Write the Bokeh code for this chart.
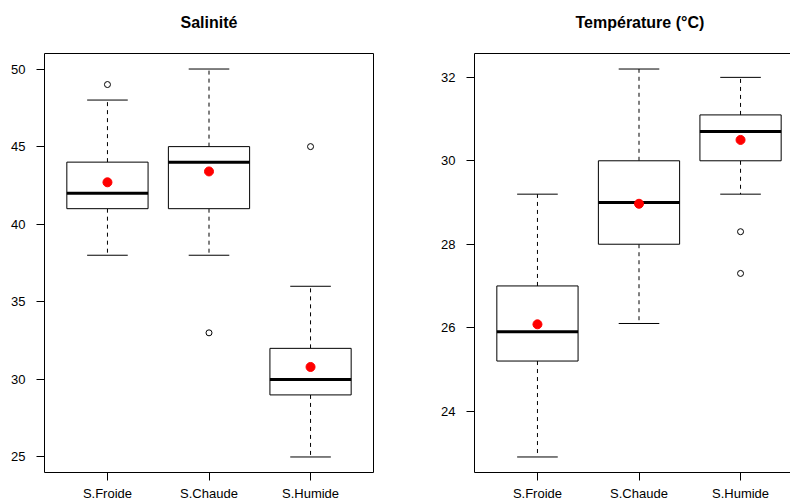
from bokeh.plotting import figure
from bokeh.layouts import row
from bokeh.models import Range1d, FixedTicker, LinearAxis, ColumnDataSource
from bokeh.embed import file_html
from bokeh.resources import INLINE

# ---------------- data ----------------
categories = ["S.Froide", "S.Chaude", "S.Humide"]

sal_low = [38, 38, 25]
sal_q1 = [41, 41, 29]
sal_med = [42, 44, 30]
sal_q3 = [44, 45, 32]
sal_high = [48, 50, 36]
sal_mean = [42.7, 43.4, 30.8]
sal_out_cat = ["S.Froide", "S.Chaude", "S.Humide"]
sal_out_val = [49, 33, 45]
sal_ticks = [25, 30, 35, 40, 45, 50]

tmp_low = [22.9, 26.1, 29.2]
tmp_q1 = [25.2, 28.0, 30.0]
tmp_med = [25.9, 29.0, 30.7]
tmp_q3 = [27.0, 30.0, 31.1]
tmp_high = [29.2, 32.2, 32.0]
tmp_mean = [26.08, 28.97, 30.5]
tmp_out_cat = ["S.Humide", "S.Humide"]
tmp_out_val = [28.3, 27.3]
tmp_ticks = [24, 26, 28, 30, 32]

FONT = "Liberation Sans"
BOX_W = 0.8
CAP_W = 0.4
PX_PER_UNIT = 329 / 3.24


def make_panel(title, low, q1, med, q3, high, mean, out_cat, out_val, ticks,
               width, border_left, border_right, x_end, full_frame):
    pos = [i + 1 for i in range(len(categories))]
    lo = min(low + out_val)
    hi = max(high + out_val)
    pad = (hi - lo) * 0.04
    p = figure(width=width, height=503, output_backend="svg", toolbar_location=None,
               x_range=Range1d(0.38, x_end), y_range=Range1d(lo - pad, hi + pad),
               min_border_left=border_left, min_border_right=border_right,
               min_border_top=53, min_border_bottom=31)
    # trailing newline reserves a blank line under the title (keeps it high above the frame)
    p.title.text = title + "\n"
    p.background_fill_color = "white"
    p.border_fill_color = "white"
    p.xgrid.visible = False
    p.ygrid.visible = False
    p.title.text_font = FONT
    p.title.text_font_size = "16px"
    p.title.text_font_style = "bold"
    p.title.text_color = "black"
    p.title.standoff = 11

    src = ColumnDataSource(dict(x=pos, low=low, q1=q1, med=med, q3=q3, high=high, mean=mean,
                                bl=[x - BOX_W / 2 for x in pos], br=[x + BOX_W / 2 for x in pos],
                                cl=[x - CAP_W / 2 for x in pos], cr=[x + CAP_W / 2 for x in pos]))
    # whiskers (dashed)
    p.segment(x0="x", y0="q3", x1="x", y1="high", source=src, line_color="black",
              line_width=1, line_dash="4 4")
    p.segment(x0="x", y0="q1", x1="x", y1="low", source=src, line_color="black",
              line_width=1, line_dash="4 4")
    # caps
    p.segment(x0="cl", y0="high", x1="cr", y1="high", source=src, line_color="black", line_width=1)
    p.segment(x0="cl", y0="low", x1="cr", y1="low", source=src, line_color="black", line_width=1)
    # boxes
    p.vbar(x="x", width=BOX_W, bottom="q1", top="q3", source=src, fill_color="white",
           line_color="black", line_width=1)
    # medians
    p.segment(x0="bl", y0="med", x1="br", y1="med", source=src, line_color="black", line_width=3)
    # outliers
    ox = [categories.index(c) + 1 for c in out_cat]
    p.scatter(ox, out_val, size=6, marker="circle", fill_color=None, line_color="black",
              line_width=1)
    # means
    p.scatter("x", "mean", source=src, size=9, marker="circle", fill_color="red",
              line_color="red")

    # axes styling
    p.xaxis.ticker = FixedTicker(ticks=pos)
    p.xaxis.major_label_overrides = {x: c for x, c in zip(pos, categories)}
    p.yaxis.ticker = FixedTicker(ticks=ticks)
    for ax in (p.xaxis[0], p.yaxis[0]):
        ax.major_tick_out = 8
        ax.major_tick_in = 0
        ax.minor_tick_line_color = None
        ax.major_tick_line_color = "black"
        ax.major_label_text_font = FONT
        ax.major_label_text_font_size = "13px"
        ax.major_label_text_color = "black"
    p.xaxis.major_label_standoff = 5
    p.yaxis.major_label_standoff = 11
    p.yaxis.major_label_orientation = "horizontal"

    if full_frame:
        p.outline_line_color = "black"
        p.outline_line_width = 1
        p.outline_line_alpha = 1
        p.xaxis.axis_line_color = None
        p.yaxis.axis_line_color = None
    else:
        p.outline_line_color = None
        p.xaxis.axis_line_color = "black"
        p.yaxis.axis_line_color = "black"
        top = LinearAxis(ticker=FixedTicker(ticks=[]), axis_line_color="black",
                         major_tick_line_color=None, minor_tick_line_color=None)
        p.add_layout(top, "above")
    return p


p1 = make_panel("Salinité", sal_low, sal_q1, sal_med, sal_q3, sal_high, sal_mean,
                sal_out_cat, sal_out_val, sal_ticks,
                width=414, border_left=44, border_right=41, x_end=0.38 + 329 / PX_PER_UNIT,
                full_frame=True)
p1.title.align = "center"

p2 = make_panel("Température (°C)", tmp_low, tmp_q1, tmp_med, tmp_q3, tmp_high, tmp_mean,
                tmp_out_cat, tmp_out_val, tmp_ticks,
                width=376, border_left=60, border_right=0, x_end=0.38 + 316 / PX_PER_UNIT,
                full_frame=False)
p2.title.align = "left"
p2.title.offset = 101

layout = row(p1, p2)

open("out.html", "w").write(file_html(layout, INLINE))
